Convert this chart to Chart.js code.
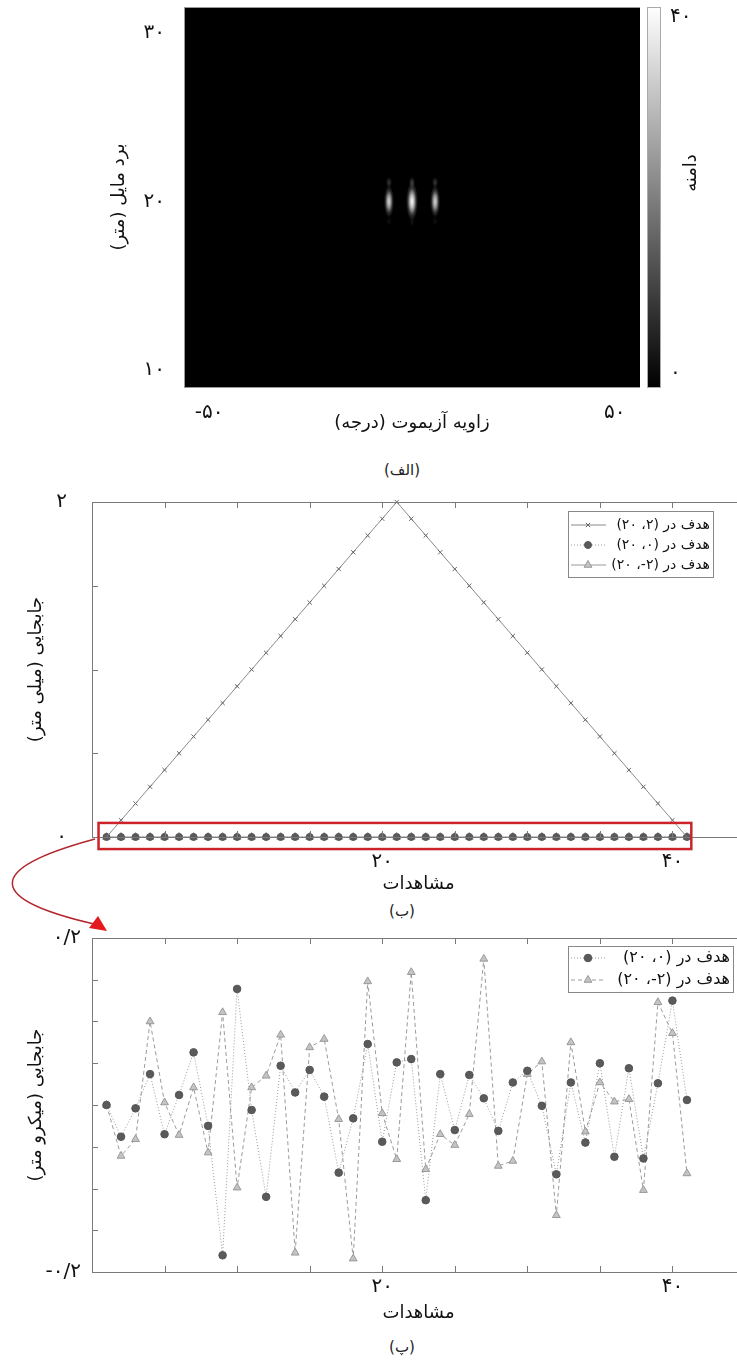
<!DOCTYPE html>
<html>
<head>
<meta charset="utf-8">
<script src="https://cdn.jsdelivr.net/npm/chart.js@4.4.0/dist/chart.umd.min.js"></script>
<style>
  html, body { margin: 0; padding: 0; background: #fff; overflow: hidden; }
  body { width: 737px; height: 1363px; position: relative; }
  canvas { position: absolute; }
  .cap { position: absolute; font-family: "DejaVu Sans"; font-size: 15px; color: #222;
         transform: translate(-50%, -50%); white-space: nowrap; direction: rtl; }
  svg { position: absolute; left: 0; top: 0; pointer-events: none; }
</style>
</head>
<body>
<canvas id="heat" width="640" height="436" style="left:0;top:0"></canvas>
<canvas id="cbar" width="97" height="436" style="left:640px;top:0"></canvas>
<canvas id="dispMm" width="760" height="407" style="left:0;top:490px"></canvas>
<canvas id="dispUm" width="760" height="401" style="left:0;top:925px"></canvas>
<div class="cap" style="left:402px;top:470px">(الف)</div>
<div class="cap" style="left:402px;top:911px">(ب)</div>
<div class="cap" style="left:402px;top:1347px">(پ)</div>
<svg width="737" height="1363">
  <path d="M95 839 C -20 870, -10 900, 94 924" stroke="#b3262c" stroke-width="1.5" fill="none"/>
  <polygon points="107,931 89,928 98,916" fill="#e3191e"/>
</svg>
<script>
// ---- panel (الف): targets in the range / azimuth image
const targetAzimuth = [-5.7, 0, 5.7];
const targetRange = [20, 20, 20];
const targetAmplitude = [34, 40, 34];
const azTicks = [-50, 50];
const rangeTicks = [10, 20, 30];
const ampTicks = [0, 40];

// ---- panels (ب) and (پ): displacement per observation
const obs = [1, 2, 3, 4, 5, 6, 7, 8, 9, 10, 11, 12, 13, 14, 15, 16, 17, 18, 19, 20, 21,
             22, 23, 24, 25, 26, 27, 28, 29, 30, 31, 32, 33, 34, 35, 36, 37, 38, 39, 40, 41];
// target at (2, 20), millimetre
const shiftTarget2 = [0, 0.1, 0.2, 0.3, 0.4, 0.5, 0.6, 0.7, 0.8, 0.9, 1.0, 1.1, 1.2, 1.3, 1.4, 1.5,
                      1.6, 1.7, 1.8, 1.9, 2.0, 1.9, 1.8, 1.7, 1.6, 1.5, 1.4, 1.3, 1.2, 1.1, 1.0,
                      0.9, 0.8, 0.7, 0.6, 0.5, 0.4, 0.3, 0.2, 0.1, 0];
// target at (0, 20), micrometre
const noiseTarget0 = [0, -0.038, -0.004, 0.037, -0.035, 0.012, 0.063, -0.025, -0.180, 0.139, -0.006,
                      -0.110, 0.047, 0.015, 0.042, 0.010, -0.081, -0.016, 0.073, -0.044, 0.051, 0.055,
                      -0.114, 0.037, -0.030, 0.036, 0.008, -0.031, 0.027, 0.041, -0.001, -0.083, 0.027,
                      -0.045, 0.050, -0.062, 0.044, -0.064, 0.026, 0.125, 0.006];
// target at (-2, 20), micrometre
const noiseTargetM2 = [0, -0.061, -0.041, 0.100, 0.003, -0.036, 0.021, -0.057, 0.111, -0.099, 0.021,
                       0.035, 0.084, -0.177, 0.069, 0.079, -0.017, -0.184, 0.148, -0.010, -0.065, 0.159,
                       -0.077, -0.035, -0.048, -0.011, 0.175, -0.073, -0.067, 0.037, 0.052, -0.132, 0.075,
                       -0.032, 0.027, 0.004, 0.007, -0.102, 0.123, 0.086, -0.082];
const obsTicks = [0, 5, 10, 15, 20, 25, 30, 35, 40, 45];
const obsLabels = [20, 40];
const mmTicks = [0, 0.5, 1, 1.5, 2];
const mmLabels = [0, 2];
const umTicks = [-0.2, -0.15, -0.1, -0.05, 0, 0.05, 0.1, 0.15, 0.2];
const umLabels = [-0.2, 0.2];

const labelT2 = 'هدف در (۲، ۲۰)';
const labelT0 = 'هدف در (۰، ۲۰)';
const labelTM2 = 'هدف در (۲-، ۲۰)';

const FONT = 'DejaVu Sans';

function fa(v) {
    return String(v).replace('.', '/').replace(/\d/g, d => '۰۱۲۳۴۵۶۷۸۹'[d]);
}
function rtl(s) {
    return '\u202B' + s + '\u202C';
}
function onlyLabels(list) {
    return v => list.some(l => Math.abs(l - v) < 1e-9) ? fa(v) : '';
}
function setTicks(list) {
    return scale => { scale.ticks = list.map(v => ({ value: v })); };
}
// fixed axis sizes, no extra room for the end labels
function fixWidth(w) {
    return s => { s.width = w; s.paddingTop = 0; s.paddingBottom = 0; };
}
function fixHeight(h) {
    return s => { s.height = h; s.paddingLeft = 0; s.paddingRight = 0; };
}

// blob image for one target, brightness follows amplitude
function lobe(g, cx, cy, rx, ry, lvl, k) {
    g.save();
    g.translate(cx, cy);
    g.scale(1, ry / rx);
    const gr = g.createRadialGradient(0, 0, 0, 0, 0, rx);
    gr.addColorStop(0, `rgba(${lvl},${lvl},${lvl},${k})`);
    gr.addColorStop(0.35, `rgba(${lvl},${lvl},${lvl},${0.7 * k})`);
    gr.addColorStop(0.7, `rgba(${lvl},${lvl},${lvl},${0.2 * k})`);
    gr.addColorStop(1, `rgba(${lvl},${lvl},${lvl},0)`);
    g.fillStyle = gr;
    g.beginPath();
    g.arc(0, 0, rx, 0, Math.PI * 2);
    g.fill();
    g.restore();
}
function makeBlob(amp) {
    const c = document.createElement('canvas');
    c.width = 16; c.height = 64;
    const g = c.getContext('2d');
    const lvl = Math.round(255 * amp / 40);
    const s = amp / 40;
    lobe(g, 8, 32, 6 * s, 19 * s, lvl, 1);
    lobe(g, 8, 13, 3.5, 6, lvl, 0.25);
    lobe(g, 8, 52, 3, 5, lvl, 0.08);
    return c;
}
const blobs = targetAmplitude.map(makeBlob);

// ---- plugins
const darkArea = {
    id: 'darkArea',
    beforeDatasetsDraw(chart) {
        const { left, top, right, bottom } = chart.chartArea;
        chart.ctx.save();
        chart.ctx.fillStyle = '#000';
        chart.ctx.fillRect(left, top, right - left, bottom - top);
        chart.ctx.restore();
    }
};

const frame = {
    id: 'frame',
    afterDraw(chart, args, o) {
        const ctx = chart.ctx;
        const { left, top, right, bottom } = chart.chartArea;
        ctx.save();
        ctx.strokeStyle = o.color || '#777';
        ctx.lineWidth = 1;
        ctx.strokeRect(Math.round(left) + 0.5, Math.round(top) + 0.5, Math.round(right - left), Math.round(bottom - top));
        if (o.tickLen) {
            const L = o.tickLen;
            ctx.beginPath();
            chart.scales.x.ticks.forEach(t => {
                const px = Math.round(chart.scales.x.getPixelForValue(t.value)) + 0.5;
                ctx.moveTo(px, bottom); ctx.lineTo(px, bottom - L);
                ctx.moveTo(px, top); ctx.lineTo(px, top + L);
            });
            chart.scales.y.ticks.forEach(t => {
                const py = Math.round(chart.scales.y.getPixelForValue(t.value)) + 0.5;
                ctx.moveTo(left, py); ctx.lineTo(left + L, py);
                ctx.moveTo(right, py); ctx.lineTo(right - L, py);
            });
            ctx.stroke();
        }
        ctx.restore();
    }
};

const highlight = {
    id: 'highlight',
    afterDraw(chart, args, o) {
        if (!o.box) return;
        const x = chart.scales.x, y = chart.scales.y;
        const x0 = x.getPixelForValue(o.box.x0), x1 = x.getPixelForValue(o.box.x1);
        const y0 = y.getPixelForValue(o.box.y0), y1 = y.getPixelForValue(o.box.y1);
        const ctx = chart.ctx;
        ctx.save();
        ctx.strokeStyle = '#cc2229';
        ctx.lineWidth = 2.5;
        ctx.strokeRect(x0, y1, x1 - x0, y0 - y1);
        ctx.restore();
    }
};

const boxLegend = {
    id: 'boxLegend',
    afterDraw(chart, args, o) {
        if (!o.left) return;
        const ctx = chart.ctx;
        ctx.save();
        ctx.fillStyle = '#fff';
        ctx.fillRect(o.left, o.top, o.width, o.height);
        ctx.strokeStyle = '#888';
        ctx.lineWidth = 1;
        ctx.strokeRect(o.left + 0.5, o.top + 0.5, o.width, o.height);
        chart.data.datasets.forEach((ds, i) => {
            const y = o.top + o.firstRow + i * o.rowGap;
            ctx.setLineDash(ds.borderDash || []);
            ctx.strokeStyle = ds.borderColor;
            ctx.lineWidth = 1;
            ctx.beginPath();
            ctx.moveTo(o.left + 3, y);
            ctx.lineTo(o.left + 38, y);
            ctx.stroke();
            ctx.setLineDash([]);
            ctx.fillStyle = ds.pointBackgroundColor;
            ctx.strokeStyle = ds.pointBorderColor;
            ctx.lineWidth = ds.pointBorderWidth;
            Chart.helpers.drawPoint(ctx, { pointStyle: ds.pointStyle, radius: ds.pointRadius, rotation: 0, borderWidth: ds.pointBorderWidth }, o.left + 20, y);
            ctx.fillStyle = '#111';
            ctx.font = o.fontSize + 'px "' + FONT + '"';
            ctx.direction = 'rtl';
            ctx.textAlign = 'right';
            ctx.textBaseline = 'middle';
            ctx.fillText(ds.label, o.left + o.width - 3, y);
        });
        ctx.restore();
    }
};

const sideTitle = {
    id: 'sideTitle',
    afterDraw(chart, args, o) {
        if (!o.text) return;
        const ctx = chart.ctx;
        ctx.save();
        ctx.translate(o.x, o.y);
        ctx.rotate(-Math.PI / 2);
        ctx.font = o.fontSize + 'px "' + FONT + '"';
        ctx.fillStyle = '#111';
        ctx.direction = 'rtl';
        ctx.textAlign = 'center';
        ctx.textBaseline = 'middle';
        ctx.fillText(o.text, 0, 0);
        ctx.restore();
    }
};

Chart.defaults.font.family = FONT;
Chart.defaults.color = '#111';

const base = {
    responsive: false,
    animation: false,
    events: [],
    devicePixelRatio: 1
};

// ---- (الف) image
new Chart('heat', {
    type: 'scatter',
    data: {
        datasets: [{
            data: targetAzimuth.map((a, i) => ({ x: a, y: targetRange[i] })),
            pointStyle: c => blobs[c.dataIndex],
            pointRadius: 8
        }]
    },
    options: {
        ...base,
        layout: { autoPadding: false, padding: { top: 7, left: 0, right: 0, bottom: 0 } },
        plugins: { legend: { display: false }, tooltip: { enabled: false }, frame: { color: '#999' } },
        scales: {
            x: {
                type: 'linear', min: -56.2, max: 56.2,
                grid: { display: false, drawTicks: false }, border: { display: false },
                afterBuildTicks: setTicks(azTicks),
                afterFit: fixHeight(49),
                ticks: { padding: 14, font: { size: 20 }, maxRotation: 0, autoSkip: false, callback: v => fa(v) },
                title: { display: true, text: rtl('زاویه آزیموت (درجه)'), font: { size: 18 }, padding: { top: 0, bottom: 2 } }
            },
            y: {
                min: 8.99, max: 31.54,
                grid: { display: false, drawTicks: false }, border: { display: false },
                afterBuildTicks: setTicks(rangeTicks),
                afterFit: fixWidth(184),
                ticks: { padding: 19, font: { size: 20 }, callback: v => fa(v) },
                title: { display: true, text: rtl('برد مایل (متر)'), font: { size: 18 }, padding: { top: 109, bottom: 0 } }
            }
        }
    },
    plugins: [darkArea, frame]
});

// ---- colour bar
new Chart('cbar', {
    type: 'bar',
    data: {
        labels: [''],
        datasets: [{
            data: [[-1.6, 41.1]],
            backgroundColor: c => {
                const a = c.chart.chartArea;
                if (!a) return '#888';
                const g = c.chart.ctx.createLinearGradient(0, a.bottom, 0, a.top);
                g.addColorStop(0, '#000');
                g.addColorStop(1, '#fff');
                return g;
            },
            borderWidth: 0,
            barPercentage: 1,
            categoryPercentage: 1
        }]
    },
    options: {
        ...base,
        layout: { autoPadding: false, padding: { top: 7, left: 7, right: 0, bottom: 49 } },
        plugins: {
            legend: { display: false }, tooltip: { enabled: false },
            frame: { color: '#aaa' },
            sideTitle: { text: 'دامنه', x: 51, y: 173, fontSize: 18 }
        },
        scales: {
            x: { display: false },
            y: {
                position: 'right', min: -1.6, max: 41.1,
                grid: { display: false, drawTicks: false }, border: { display: false },
                afterBuildTicks: setTicks(ampTicks),
                afterFit: fixWidth(77),
                ticks: { padding: 10, font: { size: 20 }, callback: v => fa(v) }
            }
        }
    },
    plugins: [frame, sideTitle]
});

// ---- displacement charts
function series(label, vals, style) {
    return Object.assign({
        label: label,
        data: obs.map((o, i) => ({ x: o, y: vals[i] })),
        borderWidth: 1,
        pointBorderWidth: 1,
        clip: false,
        tension: 0
    }, style);
}
const crossStyle = { borderColor: '#8a8a8a', pointStyle: 'crossRot', pointRadius: 3, pointBackgroundColor: '#555', pointBorderColor: '#666' };
const dotStyle = { borderColor: '#9a9a9a', borderDash: [1, 2], pointStyle: 'circle', pointRadius: 3.5, pointBackgroundColor: '#5a5a5a', pointBorderColor: '#555' };
const triStyle = { borderColor: '#9a9a9a', pointStyle: 'triangle', pointRadius: 4.5, pointBackgroundColor: '#c4c4c4', pointBorderColor: '#999' };

function dispOptions(yMin, yMax, yTicks, yLabels, yTitle, layout) {
    return {
        ...base,
        layout: { autoPadding: false, padding: { top: layout.top, left: 0, right: 15, bottom: 0 } },
        plugins: {
            legend: { display: false }, tooltip: { enabled: false },
            frame: { color: '#7a7a7a', tickLen: 6 },
            boxLegend: layout.legend,
            highlight: { box: layout.box }
        },
        scales: {
            x: {
                type: 'linear', min: 0, max: 45,
                grid: { display: false, drawTicks: false }, border: { display: false },
                afterBuildTicks: setTicks(obsTicks),
                afterFit: fixHeight(layout.xh),
                ticks: { padding: layout.xpad, font: { size: 20 }, maxRotation: 0, autoSkip: false, callback: onlyLabels(obsLabels) },
                title: { display: true, text: rtl('مشاهدات'), font: { size: 18 }, padding: { top: 0, bottom: 2 } }
            },
            y: {
                min: yMin, max: yMax,
                grid: { display: false, drawTicks: false }, border: { display: false },
                afterBuildTicks: setTicks(yTicks),
                afterFit: fixWidth(92),
                ticks: { padding: layout.ypad, font: { size: 20 }, callback: onlyLabels(yLabels) },
                title: { display: true, text: rtl(yTitle), font: { size: 18 }, padding: { top: 26, bottom: 0 } }
            }
        }
    };
}

// (ب) millimetre
new Chart('dispMm', {
    type: 'line',
    data: {
        datasets: [
            series(labelT2, shiftTarget2, crossStyle),
            series(labelT0, noiseTarget0.map(v => v / 1000), dotStyle),
            series(labelTM2, noiseTargetM2.map(v => v / 1000), triStyle)
        ]
    },
    options: dispOptions(0, 2, mmTicks, mmLabels, 'جابجایی (میلی متر)', {
        top: 12, xh: 60, xpad: 13, ypad: 25,
        legend: { left: 568, top: 21, width: 145, height: 66, firstRow: 14, rowGap: 20, fontSize: 14 },
        box: { x0: 0.45, x1: 41.3, y0: -0.072, y1: 0.084 }
    }),
    plugins: [frame, highlight, boxLegend]
});

// (پ) micrometre
new Chart('dispUm', {
    type: 'line',
    data: {
        datasets: [
            series(labelT0, noiseTarget0, Object.assign({}, dotStyle, { pointRadius: 3.8 })),
            series(labelTM2, noiseTargetM2, Object.assign({}, triStyle, { borderDash: [4, 3] }))
        ]
    },
    options: dispOptions(-0.2, 0.2, umTicks, umLabels, 'جابجایی (میکرو متر)', {
        top: 13, xh: 54, xpad: 3, ypad: 11,
        legend: { left: 568, top: 21, width: 165, height: 46, firstRow: 12, rowGap: 22, fontSize: 16 }
    }),
    plugins: [frame, boxLegend]
});
</script>
</body>
</html>
